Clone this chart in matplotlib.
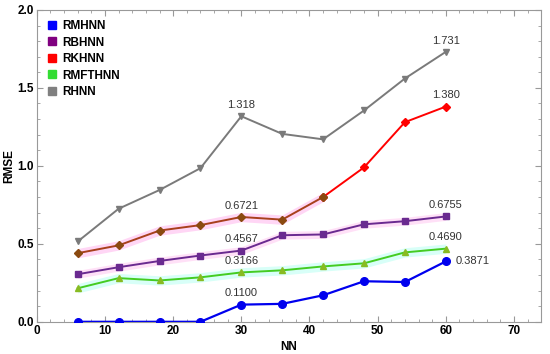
import matplotlib
matplotlib.use("Agg")
import matplotlib.pyplot as plt
from matplotlib.ticker import MultipleLocator
from matplotlib.lines import Line2D

plt.rcParams['font.family'] = ['Liberation Sans', 'DejaVu Sans']

nn = [6, 12, 18, 24, 30, 36, 42, 48, 54, 60]
rmhnn = [0.0, 0.0, 0.0, 0.0, 0.1100, 0.115, 0.17, 0.26, 0.255, 0.3871]
rbhnn = [0.305, 0.35, 0.39, 0.425, 0.4567, 0.555, 0.56, 0.625, 0.645, 0.6755]
rkhnn = [0.44, 0.49, 0.585, 0.62, 0.6721, 0.655, 0.80, 0.99, 1.28, 1.380]
rmfthnn = [0.215, 0.28, 0.265, 0.285, 0.3166, 0.33, 0.355, 0.375, 0.445, 0.4690]
rhnn = [0.515, 0.725, 0.845, 0.985, 1.318, 1.205, 1.17, 1.355, 1.56, 1.731]

series_names = ["RMHNN", "RBHNN", "RKHNN", "RMFTHNN", "RHNN"]
legend_colors = ["#0000ff", "#800080", "#ff0000", "#33dd33", "#808080"]

ann = [("1.318", 30, 1.318), ("1.731", 60, 1.731), ("1.380", 60, 1.380),
       ("0.6721", 30, 0.6721), ("0.6755", 60, 0.6755), ("0.4567", 30, 0.4567),
       ("0.4690", 60, 0.4690), ("0.3166", 30, 0.3166), ("0.1100", 30, 0.1100)]

fig = plt.figure(figsize=(5.5, 3.54), dpi=100)
ax = fig.add_axes([0.067, 0.091, 0.917, 0.881])

# light highlight bands
ax.fill_between(nn, [v - 0.03 for v in rkhnn], [v + 0.03 for v in rkhnn],
                where=[x <= 42 for x in nn], color="#ffd6f5", lw=0, zorder=1)
ax.fill_between(nn, [v - 0.025 for v in rbhnn], [v + 0.025 for v in rbhnn],
                color="#ffe0f7", lw=0, zorder=1)
ax.fill_between(nn, [v - 0.03 for v in rmfthnn], [v + 0.03 for v in rmfthnn],
                color="#d8fff8", lw=0, zorder=1)

ax.plot(nn, rhnn, color="#7a7a7a", lw=1.4, marker="v", ms=5, zorder=3)
ax.plot(nn[6:], rkhnn[6:], color="#ff0000", lw=1.4, marker="D", ms=4, zorder=3)
ax.plot(nn[:7], rkhnn[:7], color="#a8401c", lw=1.4, marker="D", ms=4,
        mfc="#8a4a10", mec="#8a4a10", zorder=4)
ax.plot(nn, rbhnn, color="#6a2a90", lw=1.4, marker="s", ms=4, zorder=3)
ax.plot(nn, rmfthnn, color="#44cc22", lw=1.4, marker="^", ms=5,
        mfc="#88bb22", mec="#88bb22", zorder=3)
ax.plot(nn, rmhnn, color="#0000ee", lw=1.6, marker="o", ms=5.5, zorder=5)

for t, x, y in ann:
    ax.text(x, y + 0.04, t, ha="center", va="bottom", fontsize=8, color="#333333")
ax.text(61.5, rmhnn[-1], "0.3871", ha="left", va="center", fontsize=8, color="#333333")

ax.set_xlim(0, 74)
ax.set_ylim(0, 2.0)
ax.xaxis.set_minor_locator(MultipleLocator(2))
ax.yaxis.set_minor_locator(MultipleLocator(0.1))
ax.set_xticks([0, 10, 20, 30, 40, 50, 60, 70])
ax.set_yticks([0, 0.5, 1.0, 1.5, 2.0])
ax.set_yticklabels(["0.0", "0.5", "1.0", "1.5", "2.0"])
ax.tick_params(which="both", direction="in", top=True, right=True, color="#999999",
               labelsize=8.5, pad=2)
ax.tick_params(which="major", length=4)
ax.tick_params(which="minor", length=2)
for lab in ax.get_xticklabels() + ax.get_yticklabels():
    lab.set_fontweight("bold")
for s in ax.spines.values():
    s.set_color("#999999")

ax.set_xlabel("NN", fontsize=8.5, fontweight="bold", labelpad=3)
ax.set_ylabel("RMSE", fontsize=8.5, fontweight="bold")
ax.yaxis.set_label_coords(-0.043, 0.5)

handles = [Line2D([], [], ls="none", marker="s", ms=5.5, color=c) for c in legend_colors]
leg = ax.legend(handles, series_names, loc="upper left", frameon=False,
                prop={"weight": "bold", "size": 8.5}, handletextpad=0.3,
                labelspacing=0.38, borderaxespad=0.2, handlelength=1.0,
                bbox_to_anchor=(0.005, 0.99))

fig.savefig("out.png", dpi=100)
